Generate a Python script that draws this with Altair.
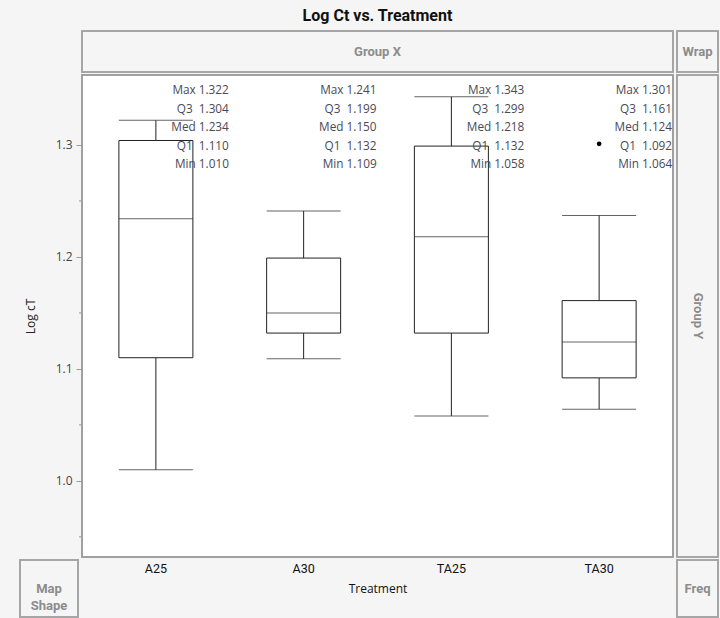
import altair as alt
import pandas as pd

treatments = ["A25", "A30", "TA25", "TA30"]
mins = [1.010, 1.109, 1.058, 1.064]
q1s = [1.110, 1.132, 1.132, 1.092]
meds = [1.234, 1.150, 1.218, 1.124]
q3s = [1.304, 1.199, 1.299, 1.161]
maxs = [1.322, 1.241, 1.343, 1.301]
whisker_tops = [1.322, 1.241, 1.343, 1.237]
outlier_treat = ["TA30"]
outlier_vals = [1.301]
stat_names = ["Max", "Q3", "Med", "Q1", "Min"]
major_ticks = [1.0, 1.1, 1.2, 1.3]
minor_ticks = [0.95, 1.05, 1.15, 1.25]
y_domain = [0.932, 1.3625]

W, H = 591, 482
FONT = "Open Sans"

box_df = pd.DataFrame({"Treatment": treatments, "min": mins, "q1": q1s,
                       "med": meds, "q3": q3s, "max": maxs, "wtop": whisker_tops})
out_df = pd.DataFrame({"Treatment": outlier_treat, "v": outlier_vals})
minor_df = pd.DataFrame({"v": minor_ticks})

rows = []
for i, t in enumerate(treatments):
    vals = [maxs[i], q3s[i], meds[i], q1s[i], mins[i]]
    for s, v in zip(stat_names, vals):
        sep = " " if len(s) == 3 else "\u00a0\u00a0"
        rows.append({"Treatment": t, "stat": s, "label": f"{s}{sep}{v:.3f}"})
txt_df = pd.DataFrame(rows)

xs = alt.Scale(domain=treatments, paddingInner=0, paddingOuter=0)
ys = alt.Scale(domain=y_domain, nice=False, zero=False)
x_axis = alt.Axis(title="Treatment", labelAngle=0, ticks=False, domain=False,
                  labelPadding=5, labelFontSize=12.5, labelColor="#111",
                  labelFont="Roboto", titleFont=FONT, titleFontSize=12,
                  titleFontWeight="normal", titleColor="#111", titlePadding=9)
X = alt.X("Treatment:N", scale=xs, axis=x_axis)
y_axis = alt.Axis(title="Log cT", values=major_ticks, format=".1f", orient="left",
                  tickSize=6, tickColor="#999", domain=False, grid=False,
                  labelFontSize=12, labelColor="#444", labelFont=FONT,
                  labelPadding=4, titleFont=FONT, titleFontSize=12,
                  titleFontWeight="normal", titleColor="#222",
                  titleX=-45, titleY=H / 2)

def Y(field):
    return alt.Y(field, scale=ys, axis=y_axis)

base = alt.Chart(box_df)
LINE = "#222"
whisk_lo = base.mark_rule(color=LINE).encode(x=X, y=Y("min:Q"), y2="q1:Q")
whisk_hi = base.mark_rule(color=LINE).encode(x=X, y=Y("q3:Q"), y2="wtop:Q")
cap_lo = base.mark_tick(color=LINE, size=74, thickness=1).encode(x=X, y=Y("min:Q"))
cap_hi = base.mark_tick(color=LINE, size=74, thickness=1).encode(x=X, y=Y("wtop:Q"))
boxes = base.mark_bar(size=74, fill="white", stroke=LINE, strokeWidth=1).encode(
    x=X, y=Y("q1:Q"), y2="q3:Q")
medians = base.mark_tick(color=LINE, size=74, thickness=1).encode(x=X, y=Y("med:Q"))
outl = alt.Chart(out_df).mark_circle(color="black", size=22, opacity=1).encode(
    x=X, y=Y("v:Q"))
minor = alt.Chart(minor_df).mark_rule(color="#999", strokeWidth=1).encode(
    x=alt.value(-3), x2=alt.value(0), y=Y("v:Q"))

main = alt.layer(whisk_lo, whisk_hi, cap_lo, cap_hi, boxes, medians, outl, minor)

texts = alt.Chart(txt_df).mark_text(align="right", baseline="middle", dx=73,
                                    font=FONT, fontSize=11.8, color="#4a4a55").encode(
    x=X,
    y=alt.Y("stat:N", sort=stat_names, axis=None,
            scale=alt.Scale(type="point", range=[15, 89], padding=0)),
    text="label:N")

one = pd.DataFrame({"a": [0]})
FR = "#a6a6a6"
BG = "#f5f5f5"
frames_spec = [
    (0, 591, -44, -3),      # Group X
    (595, 636, -44, -3),    # Wrap
    (595, 636, 0, 482),     # Group Y
    (595, 636, 485, 542),   # Freq
    (-62, -4, 485, 542),    # Map Shape
]
frame_layers = []
for x1, x2, y1, y2 in frames_spec:
    frame_layers.append(alt.Chart(one).mark_rect(fill=BG, stroke=FR, strokeWidth=2).encode(
        x=alt.value(x1), x2=alt.value(x2), y=alt.value(y1), y2=alt.value(y2)))

label_spec = [
    ("Group X", 295.5, -23.5, 0),
    ("Wrap", 615.5, -23.5, 0),
    ("Group Y", 615.5, 241, 90),
    ("Freq", 615.5, 513.5, 0),
    ("Map\nShape", -33, 513.5, 0),
]
label_layers = []
for t, lx, ly, ang in label_spec:
    label_layers.append(alt.Chart(one).mark_text(
        text=t, font="Roboto", fontSize=13, fontWeight="bold", color="#8c8c8c",
        angle=ang, align="center", baseline="middle", lineBreak="\n", lineHeight=17).encode(
        x=alt.value(lx), y=alt.value(ly)))

chart = alt.layer(main, texts, *frame_layers, *label_layers).resolve_scale(
    y="independent").properties(
    width=W, height=H,
    title=alt.TitleParams("Log Ct vs. Treatment", anchor="middle", fontSize=16,
                          font="Roboto", fontWeight="bold", color="#111", offset=6),
    background=BG,
    padding={"left": 82, "top": 75, "right": 47, "bottom": 61},
    autosize=alt.AutoSizeParams(type="none"),
).configure_view(fill="white", stroke="#a0a0a0", strokeWidth=2)

chart.save("out.html", embed_options={"renderer": "svg", "actions": False})
